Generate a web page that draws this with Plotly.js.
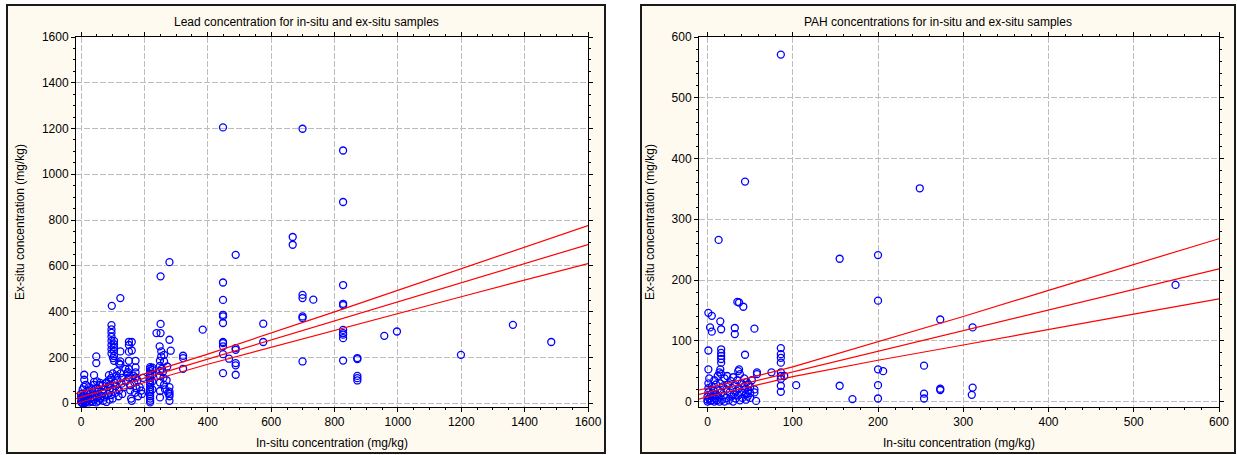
<!DOCTYPE html>
<html><head><meta charset="utf-8">
<script src="https://cdn.plot.ly/plotly-3.0.1.min.js"></script>
<style>html,body{margin:0;padding:0;background:#fff}#chart{width:1237px;height:455px}</style>
</head><body><div id="chart"></div>
<script>
// ---------- DATA ----------
const leadTitle = "Lead concentration for in-situ and ex-situ samples";
const pahTitle = "PAH concentrations for in-situ and ex-situ samples";
const xAxisTitle = "In-situ concentration (mg/kg)";
const yAxisTitle = "Ex-situ concentration (mg/kg)";

// Lead samples [in-situ, ex-situ] (mg/kg)
const leadSamples = [
  [0,5],[2,12],[3,20],[5,30],[5,2],[8,8],[10,15],[10,35],[12,0],[15,22],[15,5],[18,40],[20,10],[20,55],[22,28],[25,3],[25,70],[28,18],[30,45],[32,8],[35,60],[35,25],[38,5],[40,80],[40,35],[42,15],[45,50],[48,3],[50,95],[50,25],[52,65],[55,10],[55,40],[58,78],[60,20],[60,88],[10,124],[10,102],[9,71],[41,122],[41,93],[48,204],[48,175],[15,80],[5,60],[0,40],[0,25],[3,0],
  [65,30],[67,78],[70,45],[70,10],[72,60],[75,25],[78,86],[80,5],[80,90],[85,40],[85,70],[88,122],[88,100],[90,15],[90,55],[92,80],[95,35],[95,110],[96,341],[96,322],[96,307],[96,290],[96,272],[96,253],[96,235],[96,217],[100,60],[100,20],[100,130],[101,197],[104,272],[104,257],[104,243],[104,228],[104,206],[104,185],[97,425],[105,90],[108,45],[110,75],[112,120],[114,140],[115,100],[118,30],[120,173],[120,55],[124,459],[124,226],[124,182],[124,168],[125,130],[128,85],[130,40],[130,110],
  [135,70],[140,150],[142,95],[145,130],[148,135],[150,112],[151,268],[151,254],[151,225],[151,185],[151,149],[155,78],[155,56],[158,20],[160,267],[160,230],[160,10],[165,120],[168,90],[170,45],[172,185],[172,156],[172,134],[172,112],[175,65],[178,100],[180,30],[185,70],[190,55],[192,40],[195,110],
  [218,157],[218,150],[218,140],[218,130],[218,120],[218,110],[218,100],[218,90],[218,80],[218,70],[218,60],[218,50],[218,40],[218,30],[218,20],[218,10],[218,3],[225,155],[225,145],[225,125],[225,95],[225,60],
  [238,306],[251,306],[251,346],[251,554],[248,248],[249,185],[249,163],[249,141],[249,120],[249,90],[249,53],[249,25],[253,226],[253,204],[262,211],[262,182],[255,150],[258,135],[260,110],[262,80],[265,60],[270,100],[275,45],[279,616],[279,277],[283,229],[279,70],[279,50],[279,30],[279,10],[279,40],[272,160],
  [322,207],[322,197],[322,150],[384,321],[448,1205],[448,527],[448,451],[448,386],[448,379],[448,350],[448,267],[448,262],[448,248],[448,214],[448,131],[467,194],[488,648],[488,240],[488,233],[488,175],[488,165],[488,124],[575,347],[575,267],
  [668,726],[668,692],[699,1199],[699,473],[699,459],[699,379],[699,372],[699,182],[733,452],[827,1104],[827,879],[827,516],[827,434],[827,428],[827,320],[827,306],[827,299],[827,284],[827,186],[872,197],[872,192],[872,119],[872,109],[872,99],[957,294],[997,313],[1199,211],[1363,342],[1484,267]
];
// Lead regression line and confidence band
const leadLineX = [-16, 0, 200, 400, 800, 1200, 1600];
const leadFit   = [19, 26, 109, 192, 359, 526, 693];
const leadUpper = [41, 48, 128, 214, 399, 587, 776];
const leadLower = [-3, 4, 90, 170, 319, 465, 610];

// PAH samples [in-situ, ex-situ] (mg/kg)
const pahSamples = [
  [86,571],[44,362],[249,351],[13,266],[155,235],[200,241],[200,166],[549,192],[273,135],[311,122],
  [35,164],[37,163],[42,156],[1,146],[5,141],[3,122],[5,115],[15,132],[16,119],[32,121],[32,111],[55,120],
  [1,84],[16,86],[16,80],[16,75],[16,70],[16,64],[44,77],[86,88],[86,78],[86,72],[86,64],[86,48],[86,42],[86,37],[86,26],[86,16],[90,42],
  [104,27],[155,26],[170,4],[200,53],[206,50],[200,27],[200,5],[254,59],[254,13],[254,5],[273,21],[273,19],[311,23],[310,11],
  [75,48],[58,48],[58,45],[57,1],[37,53],[36,50],[1,53],[15,53],[14,48],
  [0,0],[0,3],[0,8],[1,15],[1,22],[1,30],[2,38],[2,5],[3,1],[4,12],[5,25],[5,2],[6,8],[7,18],[8,0],[8,35],[9,5],[10,28],[10,12],[11,2],[12,42],[12,20],[13,8],[14,0],[15,30],[16,45],[16,15],[17,3],[18,25],[19,10],[20,38],[20,0],[22,20],[22,6],[23,42],[24,28],[25,2],[26,15],[27,34],[28,8],[29,22],[30,0],[30,40],[31,12],[32,27],[33,5],[34,18],[35,35],[36,10],[37,22],[38,45],[38,2],[40,30],[40,15],[41,6],[43,25],[43,38],[44,20],[45,12],[45,3],[46,32],[47,8],[48,18],[48,28],[50,6],[50,14],[50,24],[55,20],[55,15],[52,35]
];
const pahLineX = [-10, 0, 100, 200, 300, 400, 500, 600];
const pahFit   = [11.6, 15, 48.9, 82.8, 116.7, 150.6, 184.5, 218.4];
const pahUpper = [19, 22, 57, 98, 140, 183, 225, 268];
const pahLower = [4, 8, 41, 68, 93, 119, 144, 169];

// ---------- LAYOUT (pixels) ----------
const W = 1237, H = 455;
const px = v => v / W, py = v => 1 - v / H;
const FONT = "Liberation Sans, Arial, sans-serif";
const BLUE = "#0000ff", RED = "#ff0000";

const marker = {symbol: "circle-open", size: 7, color: BLUE, line: {color: BLUE, width: 1.3}};
function pts(arr, xa, ya) {
  return {type: "scatter", mode: "markers", x: arr.map(p => p[0]), y: arr.map(p => p[1]),
          xaxis: xa, yaxis: ya, marker: marker, hoverinfo: "x+y", showlegend: false};
}
function line(xs, ys, xa, ya) {
  return {type: "scatter", mode: "lines", x: xs, y: ys, xaxis: xa, yaxis: ya,
          line: {color: RED, width: 1.2}, hoverinfo: "skip", showlegend: false};
}

const traces = [
  pts(leadSamples, "x", "y"),
  line(leadLineX, leadUpper, "x", "y"),
  line(leadLineX, leadFit, "x", "y"),
  line(leadLineX, leadLower, "x", "y"),
  pts(pahSamples, "x2", "y2"),
  line(pahLineX, pahUpper, "x2", "y2"),
  line(pahLineX, pahFit, "x2", "y2"),
  line(pahLineX, pahLower, "x2", "y2")
];

function axis(domain, range, dtick, minorD, anchor, titleText, standoff) {
  return {
    domain: domain, range: range, anchor: anchor, dtick: dtick, tick0: 0,
    showgrid: true, gridcolor: "#bdbdbd", gridwidth: 1, griddash: "6px,2px",
    zeroline: false, showline: true, linecolor: "#000", linewidth: 1, mirror: "allticks",
    ticks: "outside", ticklen: 4, tickcolor: "#000", tickwidth: 1,
    minor: {dtick: minorD, ticks: "outside", ticklen: 2, tickcolor: "#000", showgrid: false},
    tickfont: {family: FONT, size: 12, color: "#000"},
    title: {text: titleText, font: {family: FONT, size: 12, color: "#000"}, standoff: standoff},
    fixedrange: true
  };
}

const yDom = [py(407), py(37)];
const layout = {
  width: W, height: H,
  margin: {l: 0, r: 0, t: 0, b: 0},
  paper_bgcolor: "#ffffff", plot_bgcolor: "#ffffff",
  font: {family: FONT, size: 12, color: "#000"},
  showlegend: false,
  xaxis:  axis([px(76), px(588)],  [-16, 1600], 200, 50, "y",  xAxisTitle, 10),
  yaxis:  axis(yDom,               [-17, 1600], 200, 50, "x",  yAxisTitle, 14),
  xaxis2: axis([px(699), px(1219)], [-10, 600], 100, 20, "y2", xAxisTitle, 10),
  yaxis2: axis(yDom,               [-9, 600],  100, 20, "x2", yAxisTitle, 14),
  shapes: [
    {type: "rect", xref: "paper", yref: "paper", x0: px(7), x1: px(605), y0: py(453), y1: py(5),
     fillcolor: "#fffaef", line: {color: "#1a1a1a", width: 2}, layer: "below"},
    {type: "rect", xref: "paper", yref: "paper", x0: px(641), x1: px(1235), y0: py(453), y1: py(5),
     fillcolor: "#fffaef", line: {color: "#1a1a1a", width: 2}, layer: "below"},
    {type: "rect", xref: "paper", yref: "paper", x0: px(76), x1: px(588), y0: py(407), y1: py(37),
     fillcolor: "#ffffff", line: {width: 0}, layer: "below"},
    {type: "rect", xref: "paper", yref: "paper", x0: px(699), x1: px(1219), y0: py(407), y1: py(37),
     fillcolor: "#ffffff", line: {width: 0}, layer: "below"}
  ],
  annotations: [
    {text: leadTitle, xref: "paper", yref: "paper", x: px(306), y: py(22), showarrow: false,
     xanchor: "center", yanchor: "middle", font: {family: FONT, size: 12, color: "#000"}},
    {text: pahTitle, xref: "paper", yref: "paper", x: px(938), y: py(22), showarrow: false,
     xanchor: "center", yanchor: "middle", font: {family: FONT, size: 12, color: "#000"}}
  ]
};

Plotly.newPlot("chart", traces, layout, {staticPlot: true, displayModeBar: false});
</script>
</body></html>
